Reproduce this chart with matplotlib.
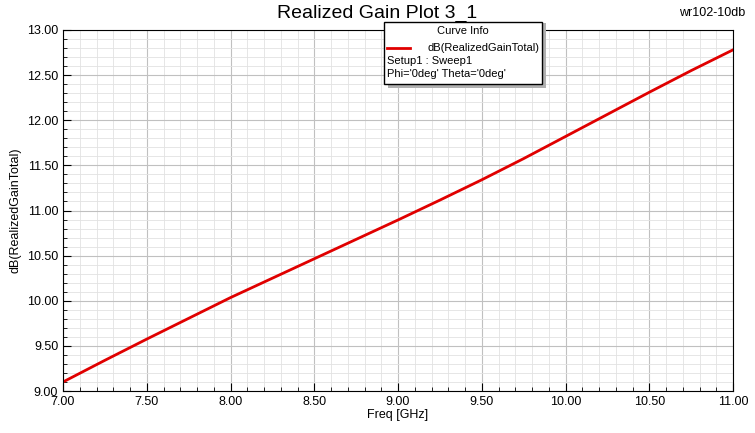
import matplotlib
matplotlib.use("Agg")
import matplotlib.pyplot as plt
from matplotlib.ticker import MultipleLocator

freq = [7.0, 7.25, 7.5, 7.75, 8.0, 8.25, 8.5, 8.75, 9.0, 9.25, 9.5, 9.75, 10.0, 10.25, 10.5, 10.75, 11.0]
gain = [9.10, 9.34, 9.575, 9.805, 10.035, 10.25, 10.465, 10.68, 10.895, 11.115, 11.34, 11.575, 11.82, 12.065, 12.31, 12.55, 12.78]

plt.rcParams['font.family'] = ['Liberation Sans', 'DejaVu Sans']
fig = plt.figure(figsize=(7.55, 4.33), dpi=100)
ax = fig.add_axes([63/755, 1 - 391/433, 670/755, 361/433])

ax.plot(freq, gain, color='#e00000', linewidth=2)
ax.set_xlim(7, 11)
ax.set_ylim(9, 13)
ax.xaxis.set_major_locator(MultipleLocator(0.5))
ax.xaxis.set_minor_locator(MultipleLocator(0.1))
ax.yaxis.set_major_locator(MultipleLocator(0.5))
ax.yaxis.set_minor_locator(MultipleLocator(0.1))
ax.xaxis.set_major_formatter(lambda v, p: f"{v:.2f}")
ax.yaxis.set_major_formatter(lambda v, p: f"{v:.2f}")
ax.grid(which='major', color='#c0c0c0', linewidth=0.8)
ax.grid(which='minor', color='#e2e2e2', linewidth=0.6)
ax.tick_params(which='both', direction='in', labelsize=9, top=False, right=False)
ax.tick_params(which='major', length=6)
ax.tick_params(which='minor', length=3)
ax.set_xlabel("Freq [GHz]", fontsize=9, labelpad=1)
ax.set_ylabel("dB(RealizedGainTotal)", fontsize=9)

fig.text(0.5, 1 - 13/433, "Realized Gain Plot 3_1", ha='center', va='center', fontsize=14)
fig.text(1 - 10/755, 1 - 13/433, "wr102-10db", ha='right', va='center', fontsize=9)

# curve info box
sh = plt.Rectangle((388/755, 1 - 88/433), 158/755, 65/433, transform=fig.transFigure,
                   facecolor='#b0b0b0', edgecolor='none', zorder=4)
box = plt.Rectangle((384/755, 1 - 84/433), 158/755, 62/433, transform=fig.transFigure,
                    facecolor='white', edgecolor='black', linewidth=1, zorder=5)
fig.patches.extend([sh, box])
fig.text(463/755, 1 - 31/433, "Curve Info", ha='center', va='center', fontsize=8, zorder=6)
fig.add_artist(plt.Line2D([387/755, 410/755], [1 - 48/433, 1 - 48/433], color='#e00000', linewidth=2, zorder=6))
fig.text(540/755, 1 - 48/433, "dB(RealizedGainTotal)", ha='right', va='center', fontsize=8, zorder=6)
fig.text(387/755, 1 - 61/433, "Setup1 : Sweep1", ha='left', va='center', fontsize=8, zorder=6)
fig.text(387/755, 1 - 74/433, "Phi='0deg' Theta='0deg'", ha='left', va='center', fontsize=8, zorder=6)

fig.savefig("out.png", dpi=100)
